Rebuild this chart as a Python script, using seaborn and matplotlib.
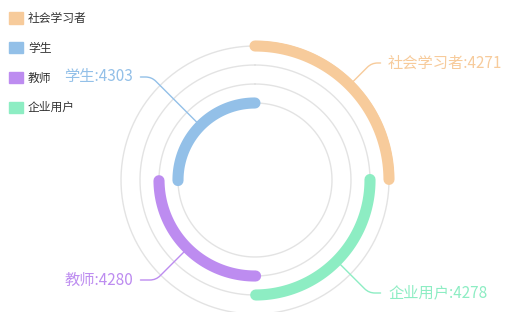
import numpy as np
import pandas as pd
from matplotlib import pyplot as plt
from matplotlib.patches import Patch
import seaborn as sns

# legend order
categories = ['社会学习者', '学生', '教师', '企业用户']
colors = ['#F7CB9B', '#93C0E8', '#BD8CF0', '#8DEDC3']

# order of the arcs, clockwise from 12 o'clock, outer ring to inner ring
arc_order = ['社会学习者', '企业用户', '教师', '学生']
arc_counts = [4271, 4278, 4280, 4303]
ring_radius = [134, 115, 96, 77]


def build_arcs():
    total = sum(arc_counts)
    ends = np.cumsum(arc_counts) / total * 2 * np.pi
    starts = np.concatenate([[0], ends[:-1]])
    rows = []
    for name, a, b, r in zip(arc_order, starts, ends, ring_radius):
        for t in np.linspace(a, b, 120):
            rows.append({'name': name, 'theta': t, 'r': r})
    return pd.DataFrame(rows), (starts + ends) / 2


sns.set_style('white')
plt.rcParams['font.family'] = ['Noto Sans CJK SC', 'DejaVu Sans']

W, H = 505, 312
fig = plt.figure(figsize=(W / 100, H / 100), dpi=100)
cx, cy, R = 255, 180, 140
ax = fig.add_axes([(cx - R) / W, (H - cy - R) / H, 2 * R / W, 2 * R / H],
                  projection='polar')
ax.set_theta_zero_location('N')
ax.set_theta_direction(-1)
ax.set_ylim(0, R)
ax.axis('off')

# grey guide rings
full = np.linspace(0, 2 * np.pi, 400)
for r in ring_radius:
    ax.plot(full, np.full_like(full, r), color='#E3E3E3', lw=1, zorder=1)

arcs, mids = build_arcs()
palette = dict(zip(categories, colors))
sns.lineplot(data=arcs, x='theta', y='r', hue='name', palette=palette,
             sort=False, estimator=None, linewidth=8, legend=False,
             solid_capstyle='round', ax=ax, zorder=3)

# labels with leader lines
label_pos = {'社会学习者': (388, 63, 45, 'left'),
             '企业用户': (388, 293, 135, 'left'),
             '教师': (133, 280, 45, 'right'),
             '学生': (133, 77, 135, 'right')}
for name, cnt, mid, r in zip(arc_order, arc_counts, mids, ring_radius):
    x, y, ang, ha = label_pos[name]
    ax.annotate(f'{name}:{cnt}', xy=(mid, r), xycoords='data',
                xytext=(x, H - y), textcoords='figure pixels',
                ha=ha, va='center', fontsize=11, color=palette[name],
                annotation_clip=False,
                arrowprops=dict(arrowstyle='-', color=palette[name], lw=1,
                                shrinkA=3, shrinkB=0,
                                relpos=(0 if ha == 'left' else 1, 0.5),
                                connectionstyle=f'angle,angleA=0,angleB={ang},rad=6'))

handles = [Patch(facecolor=c, edgecolor=c, lw=1, joinstyle='round') for c in colors]
fig.legend(handles, categories, loc='upper left',
           bbox_to_anchor=(9 / W, 1 - 12 / H), frameon=False, fontsize=8.5,
           handlelength=1.15, handleheight=1.1, handletextpad=0.45,
           labelspacing=1.42, borderpad=0, borderaxespad=0, labelcolor='#333333')

plt.savefig('out.png', dpi=100)
